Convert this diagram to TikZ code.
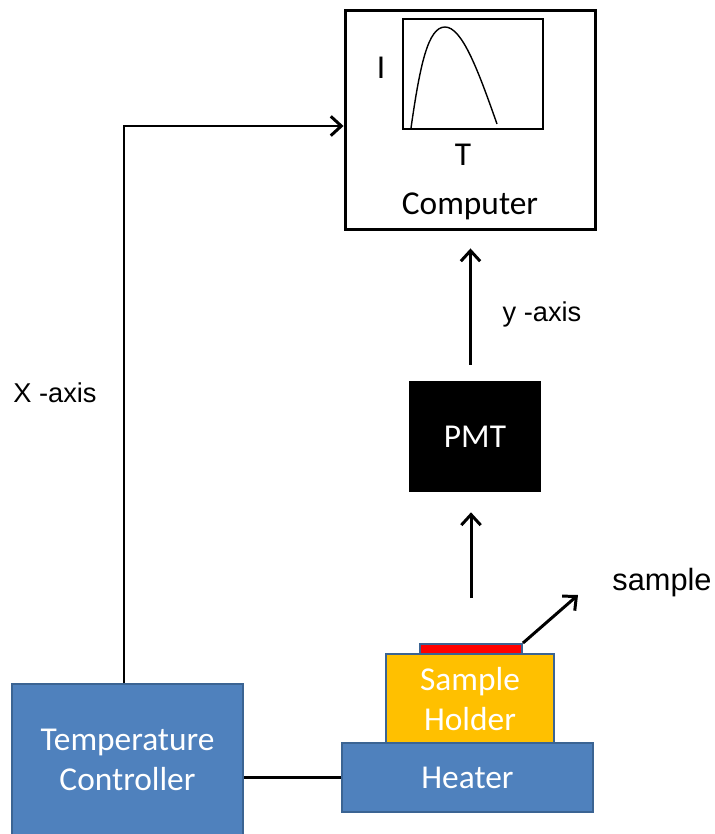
\documentclass[tikz,border=0pt]{standalone}
\usepackage{fontspec}
\setmainfont{Carlito}
\newfontfamily\arialfont{Liberation Sans}
\usetikzlibrary{arrows.meta}
\definecolor{boxblue}{HTML}{4F81BD}
\definecolor{edgeblue}{HTML}{3B6493}
\definecolor{holderyellow}{HTML}{FFC000}
\tikzstyle{block}=[draw=edgeblue,line width=1.1pt,fill=boxblue,text=white,align=center,font=\fontsize{19}{23}\selectfont,inner sep=0pt]
\tikzstyle{frame}=[draw,line width=1.7pt,inner sep=0pt]
\tikzstyle{axislabel}=[font=\arialfont\fontsize{15.5}{18}\selectfont]
\tikzstyle{wire}=[line width=1.7pt,>={Straight Barb[length=6pt,width=11pt]}]

\begin{document}
\begin{tikzpicture}[x=0.02cm,y=-0.02cm]
\useasboundingbox (0,0) rectangle (715,834);
\node[frame,minimum width=5.02cm,minimum height=4.4cm] (computer) at (470.5,120) {};
\node[frame,line width=1.6pt,minimum width=2.8cm,minimum height=2.2cm] (plot) at (473,74) {};
\draw[line width=0.8pt] (411,128) .. controls (420,65) and (428,27) .. (445,27)
  .. controls (462,27) and (478,70) .. (497,124);
\node[font=\fontsize{19}{23}\selectfont] (ilabel) at (381,68) {I};
\node[font=\fontsize{19}{23}\selectfont] (tlabel) at (463,155) {T};
\node[font=\fontsize{19}{23}\selectfont] (comptext) at (470,206) {Computer};

\node[fill=black,text=white,font=\fontsize{19}{23}\selectfont,minimum width=2.64cm,minimum height=2.22cm] (pmt) at (475,436.5) {PMT};

\node[block,fill=holderyellow,minimum width=3.36cm,minimum height=1.8cm] (holder) at (470,699) {Sample\\Holder};
\node[draw=edgeblue,line width=1.1pt,fill=red,minimum width=2.04cm,minimum height=0.2cm,inner sep=0pt] (sample) at (471,649) {};
\node[block,minimum width=5.02cm,minimum height=1.38cm] (heater) at (467.5,777.5) {Heater};
\node[block,minimum width=4.62cm,minimum height=3.04cm] (tc) at (127.5,760) {Temperature\\Controller};

\node[axislabel] (xlabel) at (55,393) {X -axis};
\node[axislabel] (ylabel) at (542,314) {y -axis};
\node[font=\arialfont\fontsize{17.5}{20}\selectfont] (samplelabel) at (662,583) {sample};
\coordinate (sampletip) at (578,595);

\draw[wire,->] ([xshift=-0.07cm]tc.north) |- ([yshift=-0.12cm]computer.west);
\draw[wire] (heater.west) -- (heater.west -| tc.east);
\draw[wire,->] ([yshift=0.9cm]sample.north) -- ([yshift=-0.4cm]pmt.south -| sample.north);
\draw[wire,->] ([yshift=0.32cm]pmt.north -| computer.south) -- ([yshift=-0.34cm]computer.south);
\draw[wire,->] (sample.north east) -- (sampletip);
\end{tikzpicture}
\end{document}
